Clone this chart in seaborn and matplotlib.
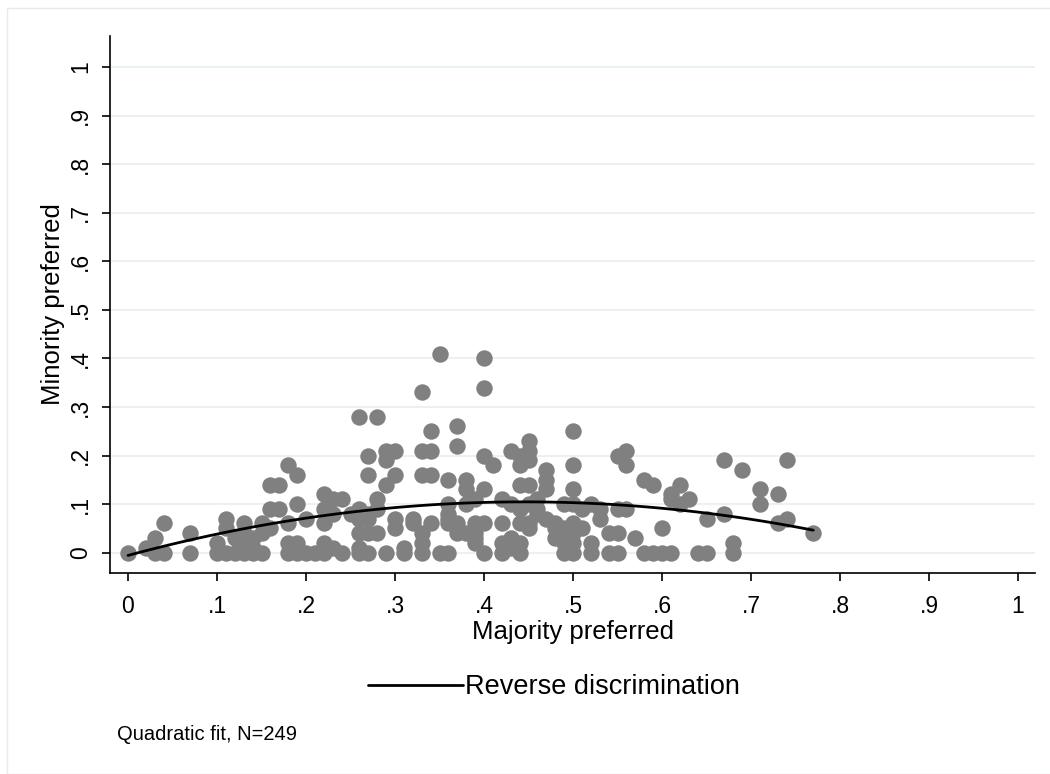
import matplotlib
matplotlib.use('Agg')
import matplotlib.pyplot as plt
import matplotlib.patches as patches
import numpy as np
import pandas as pd
import seaborn as sns

# values (rounded to .01), one line per x value
majority = [
    0.00,
    0.02,
    0.03, 0.03,
    0.04, 0.04,
    0.07, 0.07,
    0.10, 0.10,
    0.11, 0.11, 0.11,
    0.12, 0.12,
    0.13, 0.13, 0.13, 0.13,
    0.14, 0.14, 0.14,
    0.15, 0.15, 0.15,
    0.16, 0.16, 0.16,
    0.17, 0.17,
    0.18, 0.18, 0.18, 0.18,
    0.19, 0.19, 0.19, 0.19,
    0.20, 0.20,
    0.21,
    0.22, 0.22, 0.22, 0.22, 0.22,
    0.23, 0.23, 0.23,
    0.24, 0.24,
    0.25,
    0.26, 0.26, 0.26, 0.26, 0.26, 0.26,
    0.27, 0.27, 0.27, 0.27, 0.27, 0.27,
    0.28, 0.28, 0.28, 0.28,
    0.29, 0.29, 0.29, 0.29,
    0.30, 0.30, 0.30, 0.30,
    0.31, 0.31,
    0.32, 0.32,
    0.33, 0.33, 0.33, 0.33, 0.33, 0.33,
    0.34, 0.34, 0.34, 0.34,
    0.35, 0.35,
    0.36, 0.36, 0.36, 0.36, 0.36, 0.36,
    0.37, 0.37, 0.37, 0.37,
    0.38, 0.38, 0.38, 0.38,
    0.39, 0.39, 0.39, 0.39, 0.39,
    0.40, 0.40, 0.40, 0.40, 0.40, 0.40,
    0.41,
    0.42, 0.42, 0.42, 0.42,
    0.43, 0.43, 0.43, 0.43,
    0.44, 0.44, 0.44, 0.44, 0.44, 0.44, 0.44,
    0.45, 0.45, 0.45, 0.45, 0.45, 0.45, 0.45,
    0.46, 0.46, 0.46,
    0.47, 0.47, 0.47, 0.47,
    0.48, 0.48, 0.48,
    0.49, 0.49, 0.49, 0.49,
    0.50, 0.50, 0.50, 0.50, 0.50, 0.50, 0.50, 0.50,
    0.51, 0.51,
    0.52, 0.52, 0.52,
    0.53, 0.53,
    0.54, 0.54,
    0.55, 0.55, 0.55, 0.55,
    0.56, 0.56, 0.56,
    0.57,
    0.58, 0.58,
    0.59, 0.59,
    0.60, 0.60,
    0.61, 0.61, 0.61,
    0.62, 0.62,
    0.63,
    0.64,
    0.65, 0.65,
    0.67, 0.67,
    0.68, 0.68,
    0.69,
    0.71, 0.71,
    0.73, 0.73,
    0.74, 0.74,
    0.77,
]
minority = [
    0.00,
    0.01,
    0.03, 0.00,
    0.06, 0.00,
    0.04, 0.00,
    0.02, 0.00,
    0.07, 0.05, 0.00,
    0.03, 0.00,
    0.06, 0.04, 0.02, 0.00,
    0.03, 0.01, 0.00,
    0.06, 0.04, 0.00,
    0.14, 0.09, 0.05,
    0.14, 0.09,
    0.18, 0.06, 0.02, 0.00,
    0.16, 0.10, 0.02, 0.00,
    0.07, 0.00,
    0.00,
    0.12, 0.09, 0.06, 0.02, 0.00,
    0.11, 0.08, 0.01,
    0.11, 0.00,
    0.08,
    0.28, 0.09, 0.07, 0.04, 0.01, 0.00,
    0.20, 0.16, 0.08, 0.07, 0.04, 0.00,
    0.28, 0.11, 0.09, 0.04,
    0.21, 0.19, 0.14, 0.00,
    0.21, 0.16, 0.07, 0.05,
    0.01, 0.00,
    0.07, 0.06,
    0.33, 0.21, 0.16, 0.04, 0.02, 0.00,
    0.25, 0.21, 0.16, 0.06,
    0.41, 0.00,
    0.15, 0.10, 0.08, 0.07, 0.06, 0.00,
    0.26, 0.22, 0.06, 0.04,
    0.15, 0.13, 0.10, 0.04,
    0.11, 0.06, 0.04, 0.03, 0.02,
    0.40, 0.34, 0.20, 0.13, 0.06, 0.00,
    0.18,
    0.11, 0.06, 0.02, 0.00,
    0.21, 0.10, 0.03, 0.01,
    0.20, 0.18, 0.14, 0.09, 0.06, 0.02, 0.00,
    0.23, 0.21, 0.19, 0.14, 0.10, 0.06, 0.05,
    0.11, 0.09, 0.08,
    0.17, 0.15, 0.13, 0.07,
    0.06, 0.05, 0.03,
    0.10, 0.05, 0.02, 0.00,
    0.25, 0.18, 0.13, 0.10, 0.06, 0.04, 0.02, 0.00,
    0.09, 0.05,
    0.10, 0.02, 0.00,
    0.09, 0.07,
    0.04, 0.00,
    0.20, 0.09, 0.04, 0.00,
    0.21, 0.18, 0.09,
    0.03,
    0.15, 0.00,
    0.14, 0.00,
    0.05, 0.00,
    0.12, 0.11, 0.00,
    0.14, 0.10,
    0.11,
    0.00,
    0.07, 0.00,
    0.19, 0.08,
    0.02, 0.00,
    0.17,
    0.13, 0.10,
    0.12, 0.06,
    0.19, 0.07,
    0.04,
]
assert len(majority) == len(minority)

tick_vals = [0, .1, .2, .3, .4, .5, .6, .7, .8, .9, 1]
tick_labels = ['0', '.1', '.2', '.3', '.4', '.5', '.6', '.7', '.8', '.9', '1']

df = pd.DataFrame({'majority': majority, 'minority': minority})

sns.set_style('white')
plt.rcParams['font.family'] = ['Liberation Sans', 'DejaVu Sans']
plt.rcParams['text.color'] = 'black'
plt.rcParams['axes.labelcolor'] = 'black'
plt.rcParams['xtick.color'] = 'black'
plt.rcParams['ytick.color'] = 'black'

fig = plt.figure(figsize=(10.5, 7.74), dpi=100)
ax = fig.add_axes([110 / 1050, 1 - 573 / 774, 925 / 1050, 537 / 774])

# faint outer frame like the Stata graph region
fig.add_artist(patches.Rectangle((7 / 1050, 0), 1.0, 1 - 8 / 774,
                                 transform=fig.transFigure, fill=False,
                                 edgecolor='#e4ebee', linewidth=1))

sns.scatterplot(data=df, x='majority', y='minority', ax=ax,
                color='#808080', s=140, linewidth=0, alpha=1, zorder=2)
sns.regplot(data=df, x='majority', y='minority', ax=ax, order=2,
            scatter=False, ci=None, truncate=True, color='black',
            label='Reverse discrimination',
            line_kws={'linewidth': 2, 'zorder': 3})

ax.set_xlim(-18 / 890, 1 + 17 / 890)
ax.set_ylim(-21 / 500, 1 + 32 / 500)
ax.set_xticks(tick_vals)
ax.set_xticklabels(tick_labels, fontsize=16.5)
ax.set_yticks(tick_vals)
ax.set_yticklabels(tick_labels, fontsize=16.5, rotation=90, va='center')
ax.tick_params(axis='x', direction='out', length=6, width=1.2, color='black',
               labelcolor='black', bottom=True, pad=10)
ax.tick_params(axis='y', direction='out', length=6, width=1.2, color='black',
               labelcolor='black', left=True, pad=7)

ax.yaxis.grid(True, color='#e8f0f2', linewidth=1.3, zorder=0)
ax.xaxis.grid(False)
ax.set_axisbelow(True)

for side in ['top', 'right']:
    ax.spines[side].set_visible(False)
for side in ['left', 'bottom']:
    ax.spines[side].set_color('black')
    ax.spines[side].set_linewidth(1.2)

ax.set_xlabel('Majority preferred', fontsize=18.5, labelpad=1, color='black')
ax.set_ylabel('Minority preferred', fontsize=18.5, labelpad=3, color='black')

handles, labels = ax.get_legend_handles_labels()
ax.legend(handles, labels, loc='center', bbox_to_anchor=(554 / 1050, 1 - 687 / 774),
          bbox_transform=fig.transFigure, frameon=False, fontsize=19.5,
          handlelength=3.5, handletextpad=0.05, labelcolor='black')

fig.text(117 / 1050, 1 - 735 / 774, 'Quadratic fit, N=249', fontsize=14.5,
         ha='left', va='center', color='black')

fig.savefig('out.png', dpi=100)
